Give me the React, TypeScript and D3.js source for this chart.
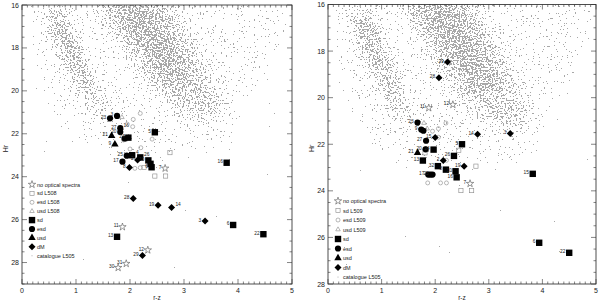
import React from "react";
import * as d3 from "d3";

type Kind = "star" | "sdL" | "esdL" | "usdL" | "sd" | "esd" | "usd" | "dM" | "cat";
type Pt = [string, Kind, number, number, string?];

// ---------- data ----------
const xTicks = [0, 1, 2, 3, 4, 5];
const yTicksLeft = [16, 18, 20, 22, 24, 26, 28];
const yTicksRight = [16, 18, 20, 22, 24, 26, 28];

// [label, kind, r-z, Hr, label side]
const leftPoints: Pt[] = [
  ["", "esdL", 2.19, 21.05],
  ["", "esdL", 2.06, 21.33],
  ["16", "esdL", 2.05, 21.67],
  ["", "esdL", 1.95, 21.55],
  ["", "esdL", 2.41, 22.25],
  ["", "esdL", 1.88, 22.29],
  ["", "esdL", 1.93, 22.26],
  ["", "esdL", 2.2, 22.65],
  ["", "esdL", 2.0, 22.71],
  ["", "esdL", 2.09, 23.61],
  ["", "esdL", 2.19, 23.58],
  ["", "usdL", 1.85, 21.23],
  ["", "sdL", 2.74, 22.88],
  ["", "sdL", 2.46, 23.97],
  ["", "sdL", 2.66, 23.97],
  ["", "sdL", 2.26, 23.57],
  ["7", "star", 2.65, 23.61],
  ["11", "star", 1.86, 26.34],
  ["12", "star", 2.33, 27.42],
  ["31", "star", 1.93, 28.05],
  ["30", "star", 1.78, 28.24],
  ["23", "esd", 1.63, 21.28],
  ["3", "esd", 1.76, 21.17],
  ["27", "esd", 1.82, 21.74],
  ["20", "esd", 1.82, 21.92],
  ["", "esd", 1.9, 22.22],
  ["25", "esd", 1.94, 23.02],
  ["17", "esd", 1.86, 23.3],
  ["21", "usd", 1.66, 22.1],
  ["9", "usd", 1.72, 22.49],
  ["5", "sd", 2.46, 21.93],
  ["24", "sd", 1.97, 22.18],
  ["4", "sd", 2.04, 23.0, "r"],
  ["26", "sd", 2.19, 23.1, "r"],
  ["10", "sd", 2.34, 23.24],
  ["", "sd", 2.38, 23.4],
  ["6", "sd", 2.4, 23.56],
  ["16", "sd", 3.79, 23.35],
  ["6", "sd", 3.91, 26.25],
  ["22", "sd", 4.47, 26.68],
  ["13", "sd", 1.76, 26.8],
  ["2", "dM", 2.14, 23.22],
  ["8", "dM", 1.99, 23.57],
  ["28", "dM", 2.06, 25.02],
  ["19", "dM", 2.52, 25.33],
  ["14", "dM", 2.77, 25.44, "r"],
  ["3", "dM", 3.39, 26.07],
  ["29", "dM", 2.23, 27.67],
];

const rightPoints: Pt[] = [
  ["", "esdL", 2.2, 21.09],
  ["", "esdL", 2.06, 21.33],
  ["", "esdL", 1.95, 21.44],
  ["", "esdL", 2.06, 21.7],
  ["", "esdL", 2.21, 22.69],
  ["", "esdL", 1.86, 23.66],
  ["", "esdL", 2.1, 23.66],
  ["", "esdL", 2.21, 23.66],
  ["", "usdL", 1.79, 21.09],
  ["", "usdL", 1.85, 21.33],
  ["", "sdL", 2.44, 22.26],
  ["", "sdL", 1.81, 22.37],
  ["", "sdL", 2.76, 22.94],
  ["", "sdL", 2.48, 23.99],
  ["", "sdL", 2.68, 23.99],
  ["11", "star", 1.88, 20.44],
  ["12", "star", 2.33, 20.3],
  ["7", "star", 2.65, 23.69],
  ["23", "esd", 1.67, 21.07],
  ["9", "esd", 1.74, 21.37],
  ["", "esd", 1.78, 21.42],
  ["27", "esd", 1.83, 21.85],
  ["20", "esd", 1.82, 22.22],
  ["17", "esd", 1.87, 23.3],
  ["", "esd", 1.91, 23.3],
  ["25", "esd", 1.95, 23.3],
  ["21", "usd", 1.67, 22.37],
  ["5", "sd", 2.5, 22.0],
  ["24", "sd", 1.97, 22.23],
  ["26", "sd", 2.35, 22.5],
  ["13", "sd", 1.77, 22.7],
  ["32", "sd", 2.05, 22.94],
  ["8", "sd", 2.2, 23.09],
  ["10", "sd", 2.38, 23.16],
  ["16", "sd", 2.4, 23.42],
  ["15", "sd", 3.82, 23.27],
  ["6", "sd", 3.94, 26.23],
  ["22", "sd", 4.5, 26.66],
  ["29", "dM", 2.23, 18.47],
  ["28", "dM", 2.07, 19.14],
  ["15", "dM", 2.0, 21.71],
  ["14", "dM", 2.79, 21.57],
  ["3", "dM", 3.4, 21.54],
  ["2", "dM", 2.15, 22.7],
  ["19", "dM", 2.54, 22.94],
];

const legendKinds: Kind[] = ["star", "sdL", "esdL", "usdL", "sd", "esd", "usd", "dM", "cat"];
const leftLegendText = ["no optical spectra", "sd L508", "esd L508", "usd L508", "sd", "esd", "usd", "dM", "catalogue L505"];
const rightLegendText = ["no optical spectra", "sd L509", "esd L509", "usd L509", "sd", "esd", "usd", "dM", "catalogue L505"];

// catalogue L505 density regions (r-z, Hr)
const catHalo: [number, number][] = [[0.1, 16.0], [4.9, 16.0], [4.9, 18.0], [4.3, 20.3], [3.9, 22.3], [3.0, 23.1], [1.6, 22.9], [0.8, 22.0], [0.3, 20.0], [0.1, 17.5]];
const catBandA: [number, number][] = [[0.4, 16.3], [0.75, 16.2], [0.95, 17.2], [1.12, 18.3], [1.3, 19.4], [1.5, 20.5], [1.62, 21.2], [1.35, 21.1], [1.1, 20.2], [0.9, 19.2], [0.7, 18.2], [0.5, 17.2]];
const catCoreA: [number, number][] = [[0.55, 16.6], [0.78, 16.6], [1.0, 17.8], [1.2, 19.0], [1.32, 20.0], [1.15, 20.0], [0.95, 19.0], [0.72, 17.8]];
const catBandB: [number, number][] = [[1.35, 16.0], [2.75, 16.0], [3.0, 17.0], [3.3, 18.3], [3.55, 19.5], [3.75, 20.7], [3.5, 21.3], [3.0, 21.0], [2.55, 20.2], [2.2, 19.2], [1.9, 18.1], [1.6, 17.0]];
const catCoreB: [number, number][] = [[1.7, 16.0], [2.5, 16.0], [2.6, 17.0], [2.9, 18.3], [3.1, 19.5], [2.75, 19.6], [2.4, 18.5], [2.05, 17.3]];

// ---------- drawing ----------
const FONT = "'Liberation Sans', Arial, Helvetica, sans-serif";

function Marker({ kind, cx, cy }: { kind: Kind; cx: number; cy: number }) {
  const t = `translate(${cx},${cy})`;
  switch (kind) {
    case "star":
      return <path transform={t} d={d3.symbol(d3.symbolStar, 17)() as string} fill="none" stroke="#555" strokeWidth={0.6} />;
    case "sdL":
      return <rect x={cx - 2.1} y={cy - 2.1} width={4.2} height={4.2} fill="none" stroke="#888" strokeWidth={0.6} />;
    case "esdL":
      return <circle cx={cx} cy={cy} r={2.0} fill="none" stroke="#888" strokeWidth={0.6} />;
    case "usdL":
      return <path transform={t} d={d3.symbol(d3.symbolTriangle, 9)() as string} fill="none" stroke="#888" strokeWidth={0.6} />;
    case "sd":
      return <rect x={cx - 3.2} y={cy - 3.2} width={6.4} height={6.4} fill="#000" />;
    case "esd":
      return <circle cx={cx} cy={cy} r={3.1} fill="#000" />;
    case "usd":
      return <path transform={t} d={d3.symbol(d3.symbolTriangle, 24)() as string} fill="#000" />;
    case "dM":
      return <path transform={t} d="M0,-3.5L3.5,0L0,3.5L-3.5,0Z" fill="#000" />;
    case "cat":
      return <circle cx={cx} cy={cy} r={0.5} fill="#999" />;
  }
  return null;
}

type PanelProps = {
  id: string;
  left: number;
  right: number;
  top: number;
  bottom: number;
  yMax: number;
  yTicks: number[];
  points: Pt[];
  legendText: string[];
  legendX: number;
  legendY: number;
  legendStep: number;
};

function Panel(p: PanelProps) {
  const x = d3.scaleLinear().domain([0, 5]).range([p.left, p.right]);
  const y = d3.scaleLinear().domain([16, p.yMax]).range([p.top, p.bottom]);
  const line = d3.line<[number, number]>().x((d) => x(d[0])).y((d) => y(d[1])).curve(d3.curveCatmullRomClosed);
  const xMinor = d3.range(0, 5.0001, 0.1);
  const yMinor = d3.range(16, p.yMax + 0.001, 0.5);
  const w = p.right - p.left;
  const h = p.bottom - p.top;
  const tickCol = "#333";
  return (
    <g>
      <defs>
        <clipPath id={`clip-${p.id}`}>
          <rect x={p.left} y={p.top} width={w} height={h} />
        </clipPath>
        <filter id={`stip-${p.id}`} filterUnits="userSpaceOnUse" x={p.left} y={p.top} width={w} height={h} colorInterpolationFilters="sRGB">
          <feGaussianBlur in="SourceAlpha" stdDeviation="8" result="dens" />
          <feTurbulence type="fractalNoise" baseFrequency="0.61" numOctaves="2" seed={p.id === "L" ? 3 : 11} result="noise" />
          <feColorMatrix in="noise" type="matrix" values="0 0 0 0 0  0 0 0 0 0  0 0 0 0 0  1 0 0 0 0" result="na" />
          <feComposite in="na" in2="dens" operator="arithmetic" k1="0" k2="1" k3="0.56" k4="-0.39" result="sum" />
          <feComponentTransfer in="sum" result="th">
            <feFuncA type="discrete" tableValues="0 1" />
          </feComponentTransfer>
          <feFlood floodColor="#a8a8a8" result="col" />
          <feComposite in="col" in2="th" operator="in" />
        </filter>
      </defs>
      <g clipPath={`url(#clip-${p.id})`}>
        <g filter={`url(#stip-${p.id})`}>
          <rect x={p.left} y={p.top} width={w} height={h} fill="#000" fillOpacity={0.05} />
          <path d={line(catHalo) as string} fill="#000" fillOpacity={0.28} />
          <path d={line(catBandA) as string} fill="#000" fillOpacity={0.4} />
          <path d={line(catCoreA) as string} fill="#000" fillOpacity={0.4} />
          <path d={line(catBandB) as string} fill="#000" fillOpacity={0.4} />
          <path d={line(catCoreB) as string} fill="#000" fillOpacity={0.35} />
        </g>
      </g>
      <rect x={p.left} y={p.top} width={w} height={h} fill="none" stroke="#222" strokeWidth={0.8} />
      {xMinor.map((v, i) => {
        const major = Math.abs(v - Math.round(v)) < 1e-6;
        const len = major ? 5 : 2.5;
        const xx = x(v);
        return (
          <g key={`xt${i}`} stroke={tickCol} strokeWidth={0.6}>
            <line x1={xx} x2={xx} y1={p.bottom} y2={p.bottom - len} />
            <line x1={xx} x2={xx} y1={p.top} y2={p.top + len} />
          </g>
        );
      })}
      {yMinor.map((v, i) => {
        const major = Math.abs((v - 16) / 2 - Math.round((v - 16) / 2)) < 1e-6;
        const len = major ? 5 : 2.5;
        const yy = y(v);
        return (
          <g key={`yt${i}`} stroke={tickCol} strokeWidth={0.6}>
            <line x1={p.left} x2={p.left + len} y1={yy} y2={yy} />
            <line x1={p.right} x2={p.right - len} y1={yy} y2={yy} />
          </g>
        );
      })}
      {xTicks.map((v) => (
        <text key={`xl${v}`} x={x(v)} y={p.bottom + 9} fontSize={7} fontFamily={FONT} textAnchor="middle" fill="#222">
          {v}
        </text>
      ))}
      {p.yTicks.map((v) => (
        <text key={`yl${v}`} x={p.left - 3} y={y(v) + 2.5} fontSize={7} fontFamily={FONT} textAnchor="end" fill="#222">
          {v}
        </text>
      ))}
      <text x={(p.left + p.right) / 2} y={p.bottom + 16} fontSize={6.5} fontFamily={FONT} textAnchor="middle" fill="#222">
        r-z
      </text>
      <text transform={`translate(${p.left - 14},${(p.top + p.bottom) / 2 + 4}) rotate(-90)`} fontSize={7} fontFamily={FONT} textAnchor="middle" fill="#222">
        Hr
      </text>
      {p.points.map(([lab, kind, vx, vy, side], i) => (
        <g key={`pt${i}`}>
          <Marker kind={kind} cx={x(vx)} cy={y(vy)} />
          {lab ? (
            <text x={side === "r" ? x(vx) + 3.8 : x(vx) - 3.8} y={y(vy) + (side === "r" ? -1.5 : 0.5)} fontSize={4.8} fontFamily={FONT}
              textAnchor={side === "r" ? "start" : "end"} fill="#222">
              {lab}
            </text>
          ) : null}
        </g>
      ))}
      {legendKinds.map((k, i) => (
        <g key={`lg${i}`}>
          <Marker kind={k} cx={p.legendX} cy={p.legendY + i * p.legendStep} />
          <text x={p.legendX + 5} y={p.legendY + i * p.legendStep + 2} fontSize={5.5} fontFamily={FONT} fill="#222">
            {p.legendText[i]}
          </text>
        </g>
      ))}
    </g>
  );
}

export default function App() {
  return (
    <svg width={600} height={302} style={{ position: "absolute", left: 0, top: 0, background: "#fff" }}>
      <rect x={0} y={0} width={600} height={302} fill="#fff" />
      <Panel id="L" left={22} right={292} top={5} bottom={284} yMax={29} yTicks={yTicksLeft} points={leftPoints}
        legendText={leftLegendText} legendX={32} legendY={184.5} legendStep={8.9} />
      <Panel id="R" left={328} right={596} top={4.5} bottom={284} yMax={28} yTicks={yTicksRight} points={rightPoints}
        legendText={rightLegendText} legendX={338} legendY={201} legendStep={9.5} />
    </svg>
  );
}
